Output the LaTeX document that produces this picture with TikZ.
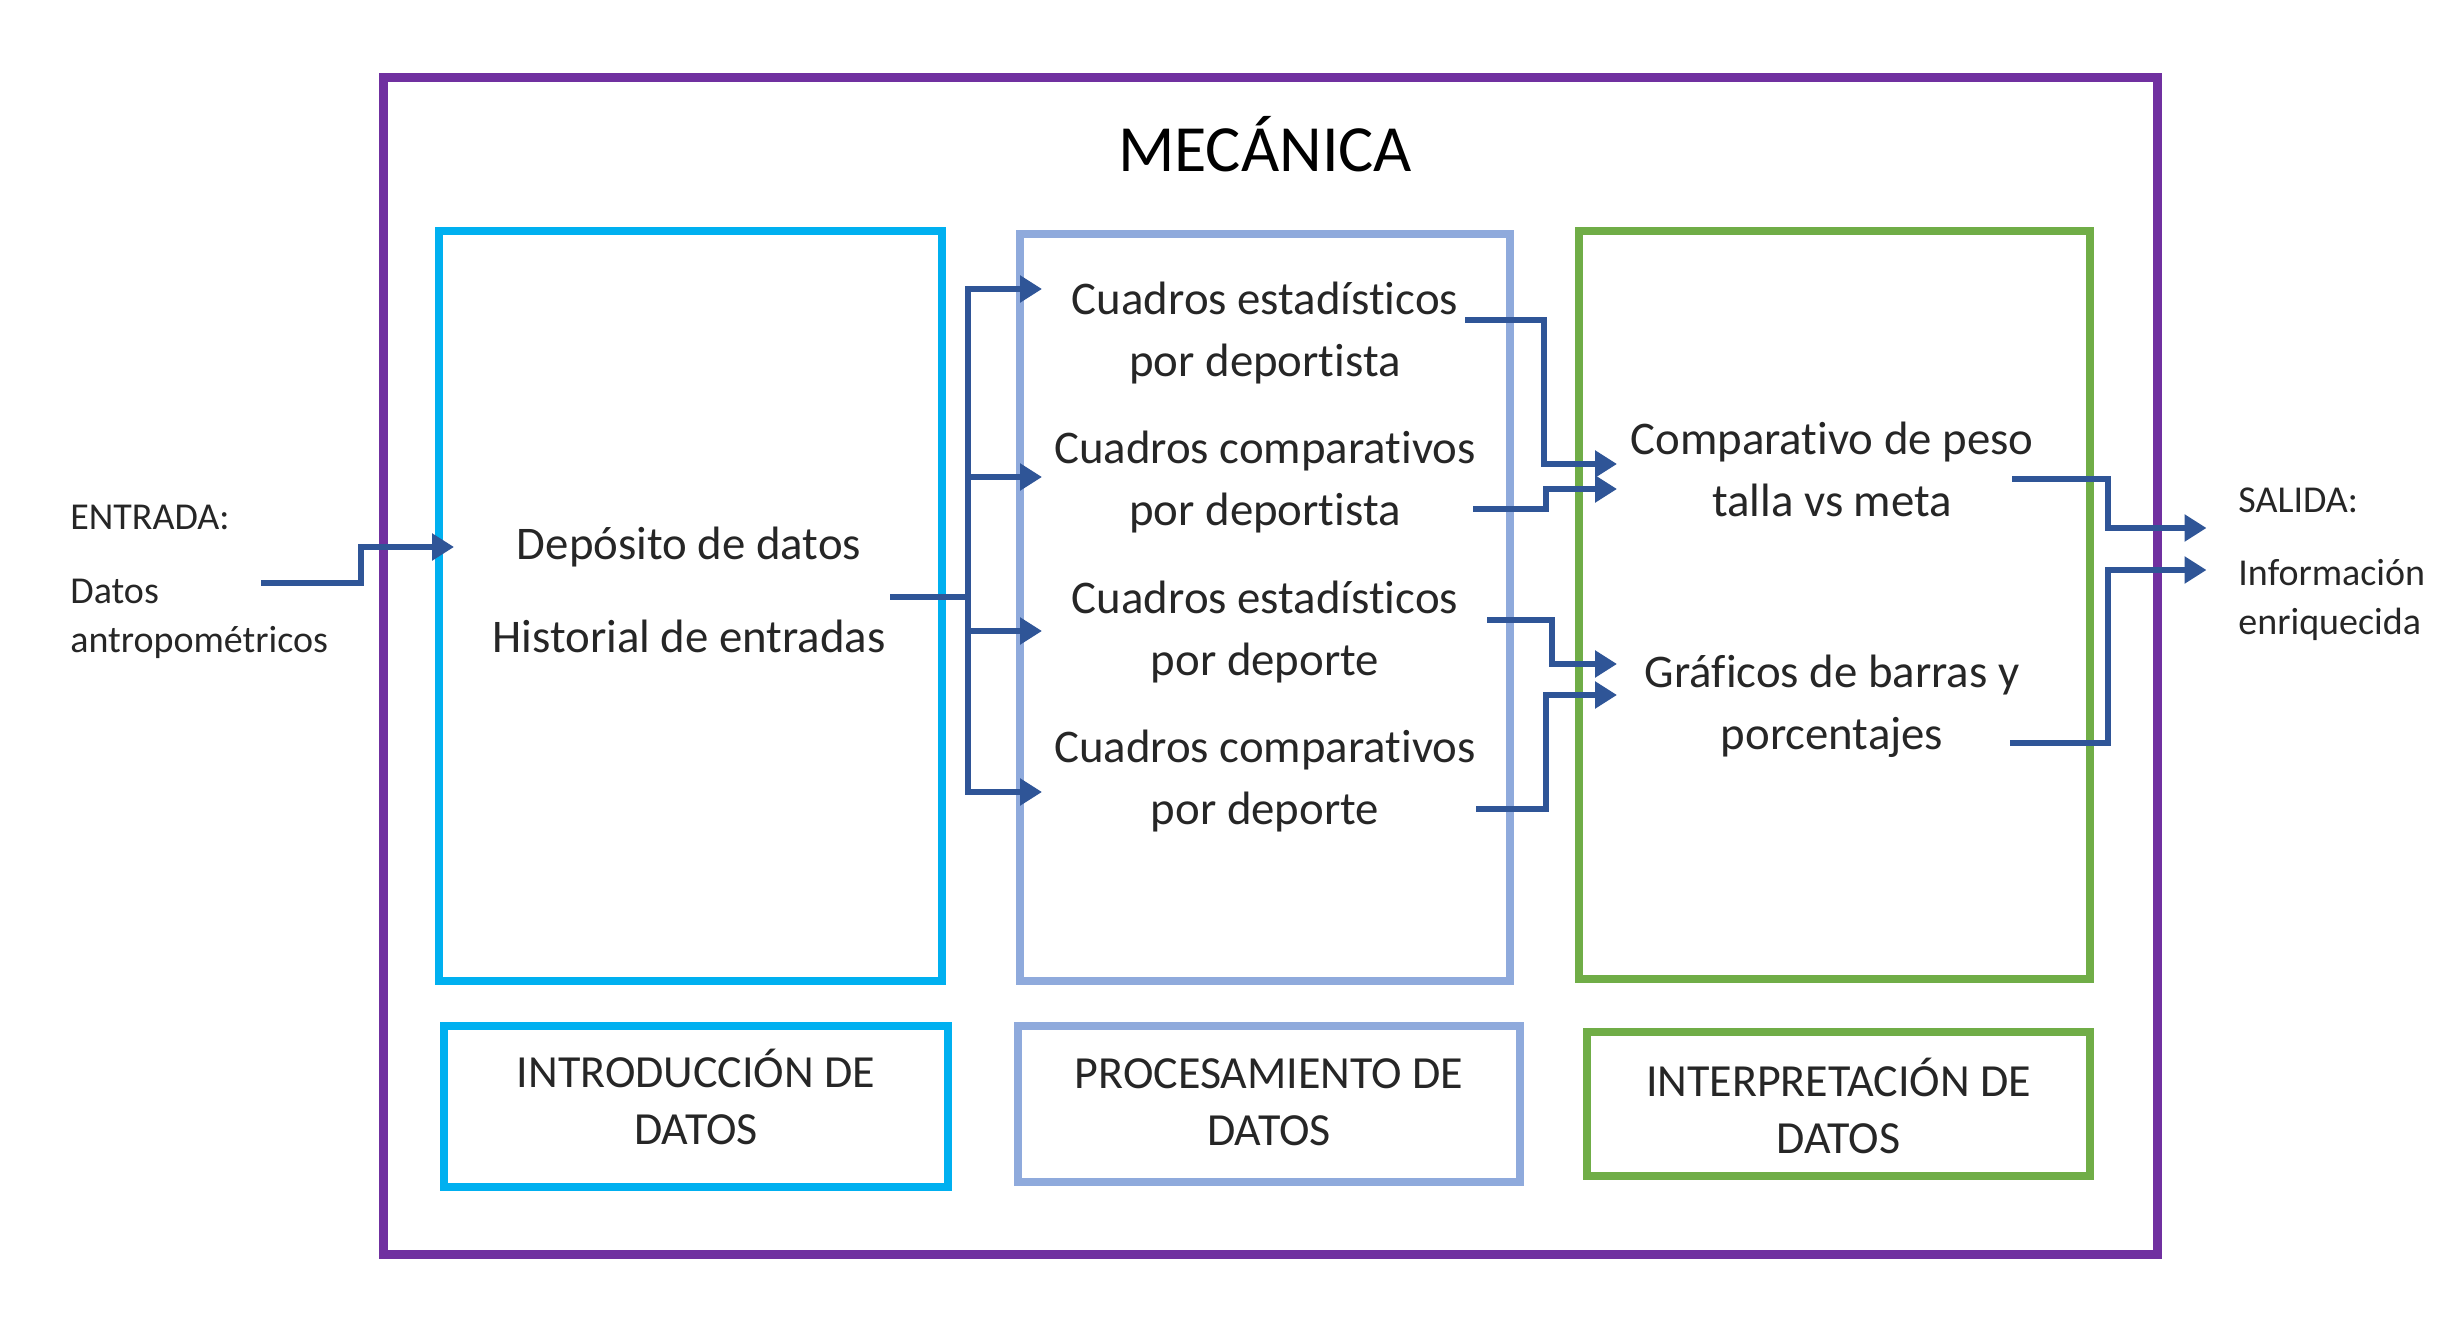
\documentclass[tikz,border=0pt]{standalone}
\usepackage{fontspec}
\setmainfont[Ligatures=NoCommon]{Carlito}
\usetikzlibrary{arrows.meta}
\definecolor{purp}{HTML}{7030A0}
\definecolor{cyanb}{HTML}{00B0F0}
\definecolor{lblue}{HTML}{8FAADC}
\definecolor{greenb}{HTML}{70AD47}
\definecolor{arrb}{HTML}{2F5597}
\definecolor{txtc}{HTML}{262626}
\tikzset{
  boxc/.style={draw, line width=4pt, inner sep=0pt},
  txt/.style={font=\fontsize{23.4}{31}\selectfont, align=center, inner sep=0pt, text=txtc},
  bottxt/.style={font=\fontsize{23}{28.5}\selectfont, align=center, inner sep=0pt, text=txtc},
  side/.style={font=\fontsize{19}{24.5}\selectfont, align=left, anchor=west, inner sep=0pt, text=txtc},
  ln/.style={draw=arrb, line width=3.2pt},
  arr/.style={ln, -{Triangle[length=11pt,width=13pt]}},
}
\begin{document}
\begin{tikzpicture}[x=0.5pt,y=-0.5pt]
\useasboundingbox (0,0) rectangle (2449,1322);
% outer frame
\node[boxc, draw=purp, line width=4.5pt, minimum width=887pt, minimum height=588pt] (outer) at (1270,666) {};
\node[font=\fontsize{33}{40}\selectfont, text=black, inner sep=0pt] (title) at (1265,144) {MECÁNICA};
% column boxes
\node[boxc, draw=cyanb, minimum width=251.5pt, minimum height=375pt] (b1) at (690.5,606) {};
\node[boxc, draw=lblue, minimum width=245pt, minimum height=373.5pt] (b2) at (1265,607.5) {};
\node[boxc, draw=greenb, minimum width=255.5pt, minimum height=374pt] (b3) at (1834.5,605) {};
% bottom label boxes
\node[boxc, draw=cyanb, minimum width=252pt, minimum height=80.5pt] (l1) at (696,1106.5) {};
\node[boxc, draw=lblue, minimum width=251pt, minimum height=78pt] (l2) at (1269,1104) {};
\node[boxc, draw=greenb, minimum width=251.5pt, minimum height=72pt] (l3) at (1838.5,1104) {};
\node[bottxt] (t1) at (696,1097) {INTRODUCCIÓN DE\\DATOS};
\node[bottxt] (t2) at (1269,1102) {PROCESAMIENTO DE\\DATOS};
\node[bottxt] (t3) at (1838.5,1106) {INTERPRETACIÓN DE\\DATOS};
% texts
\node[txt] (dep) at (689,547) {Depósito de datos};
\node[txt] (hist) at (689,636) {Historial de entradas};
\node[txt] (ce1) at (1265,333) {Cuadros estadísticos\\por deportista};
\node[txt] (cc1) at (1265,482) {Cuadros comparativos\\por deportista};
\node[txt] (ce2) at (1265,632) {Cuadros estadísticos\\por deporte};
\node[txt] (cc2) at (1265,781) {Cuadros comparativos\\por deporte};
\node[txt] (cmp) at (1832,469) {Comparativo de peso\\talla vs meta};
\node[txt] (graf) at (1832,706) {Gráficos de barras y\\porcentajes};
\node[side] (ent) at (70,517) {ENTRADA:};
\node[side] (datos) at (70,619) {Datos\\antropométricos};
\node[side] (sal) at (2238,500) {SALIDA:};
\node[side] (info) at (2238,600) {Información\\enriquecida};
% connector free ends
\coordinate (ein) at (261,583);
\coordinate (bs) at (890,597);
\coordinate (bus) at (968,597);
\coordinate (s1) at (1465,320);
\coordinate (s2) at (1473,509);
\coordinate (s3) at (1487,620);
\coordinate (s4) at (1476,809);
\coordinate (o1) at (2012,479);
\coordinate (o2) at (2010,743);
% input arrow
\draw[arr] (ein) -| (361,547) -- ([xshift=9.5pt]b1.west |- dep);
% distribution bus
\draw[ln] (bs) -- (bus);
\draw[arr] (bus) |- ([xshift=13pt]b2.west |- 0,289);
\draw[arr] (bus) |- ([xshift=13pt]b2.west |- 0,792);
\draw[arr] (968,477) -- ([xshift=13pt]b2.west |- 0,477);
\draw[arr] (968,631) -- ([xshift=13pt]b2.west |- 0,631);
% to interpretation
\draw[arr] (s1) -| (1544,464) -- ([xshift=21pt]b3.west |- 0,464);
\draw[arr] (s2) -| (1546,489) -- ([xshift=21pt]b3.west |- 0,489);
\draw[arr] (s3) -| (1552,664) -- ([xshift=21pt]b3.west |- 0,664);
\draw[arr] (s4) -| (1546,695) -- ([xshift=21pt]b3.west |- 0,695);
% outputs
\draw[arr] (o1) -| (2108,528) -- ([xshift=22.5pt]outer.east |- 0,528);
\draw[arr] (o2) -| (2108,570) -- ([xshift=22.5pt]outer.east |- 0,570);
\end{tikzpicture}
\end{document}
